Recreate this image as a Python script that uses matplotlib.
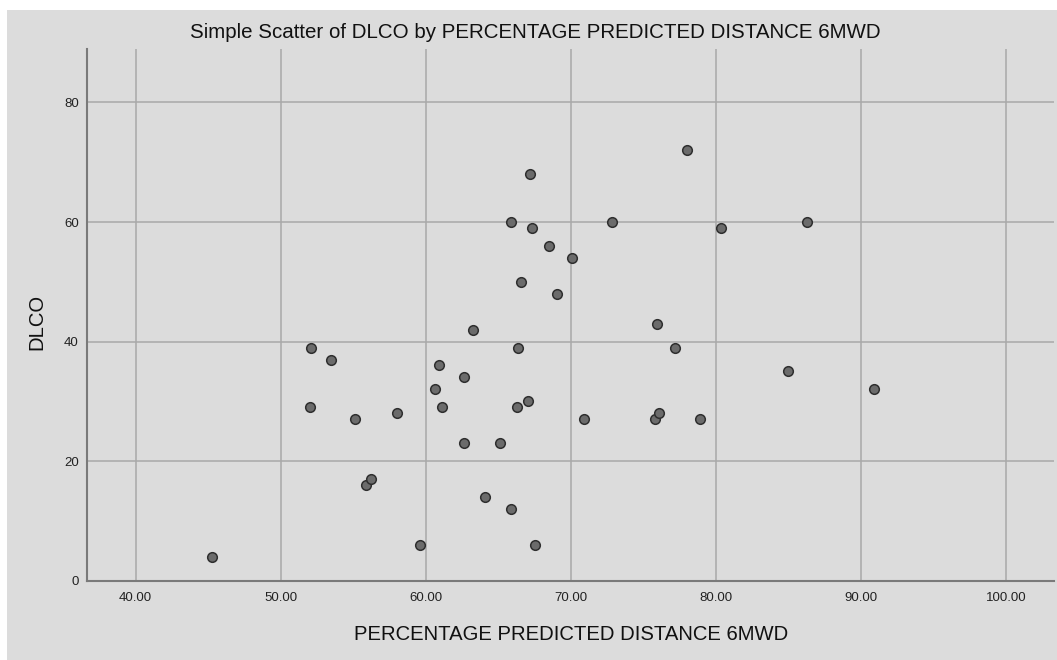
import matplotlib.pyplot as plt
from matplotlib.patches import Rectangle

# percentage predicted distance (6MWD) and DLCO
pct_6mwd = [45.24, 52.1, 52.0, 53.5, 55.1, 55.9, 56.25, 58.0, 59.6, 60.6,
            60.9, 61.1, 62.6, 62.6, 63.25, 64.05, 65.1, 65.9, 65.9, 66.35,
            66.3, 66.55, 67.05, 67.2, 67.3, 67.55, 68.5, 69.05, 70.1, 70.9,
            72.8, 75.8, 76.05, 75.9, 77.15, 78.0, 78.9, 80.3, 84.95, 86.25,
            90.9]
dlco = [4, 39, 29, 37, 27, 16, 17, 28, 6, 32,
        36, 29, 34, 23, 42, 14, 23, 12, 60, 39,
        29, 50, 30, 68, 59, 6, 56, 48, 54, 27,
        60, 27, 28, 43, 39, 72, 27, 59, 35, 60,
        32]

x_ticks = [40, 50, 60, 70, 80, 90, 100]
y_ticks = [0, 20, 40, 60, 80]

plt.rcParams['font.family'] = ['Liberation Sans', 'DejaVu Sans']

fig = plt.figure(figsize=(10.57, 6.6), dpi=100, facecolor='white')
# grey chart panel, with a thin white margin top and left
panel = Rectangle((7 / 1057, 0), 1, 650 / 660, transform=fig.transFigure,
                  facecolor='#dcdcdc', edgecolor='none', zorder=-5)
fig.add_artist(panel)

ax = fig.add_axes([0.0825, 0.1202, 0.9150, 0.8051])
ax.set_facecolor('#dcdcdc')

ax.scatter(pct_6mwd, dlco, s=48, facecolor='#6b6b6b', edgecolor='#2e2e2e',
           linewidth=1.1, zorder=3)

ax.set_xlim(36.67, 103.3)
ax.set_ylim(0, 88.9)
ax.set_xticks(x_ticks)
ax.set_xticklabels([f"{t:.2f}" for t in x_ticks])
ax.set_yticks(y_ticks)

ax.grid(True, color='#a9a9a9', linewidth=1.1)
ax.set_axisbelow(True)
for side in ['top', 'right']:
    ax.spines[side].set_visible(False)
for side in ['left', 'bottom']:
    ax.spines[side].set_color('#7a7a7a')
    ax.spines[side].set_linewidth(1.5)
ax.tick_params(length=0, labelsize=9.5, labelcolor='#222222')
ax.tick_params(axis='x', pad=8)
ax.tick_params(axis='y', pad=6)

fig.text(535 / 1057, 1 - 33 / 660, 'Simple Scatter of DLCO by PERCENTAGE PREDICTED DISTANCE 6MWD',
         ha='center', va='center', fontsize=14.8, color='#111111')
fig.text(571 / 1057, 1 - 635 / 660, 'PERCENTAGE PREDICTED DISTANCE 6MWD',
         ha='center', va='center', fontsize=14.6, color='#111111')
fig.text(37 / 1057, 1 - 322 / 660, 'DLCO', rotation=90,
         ha='center', va='center', fontsize=14.6, color='#111111')

fig.savefig('out.png', dpi=100, facecolor='white')
